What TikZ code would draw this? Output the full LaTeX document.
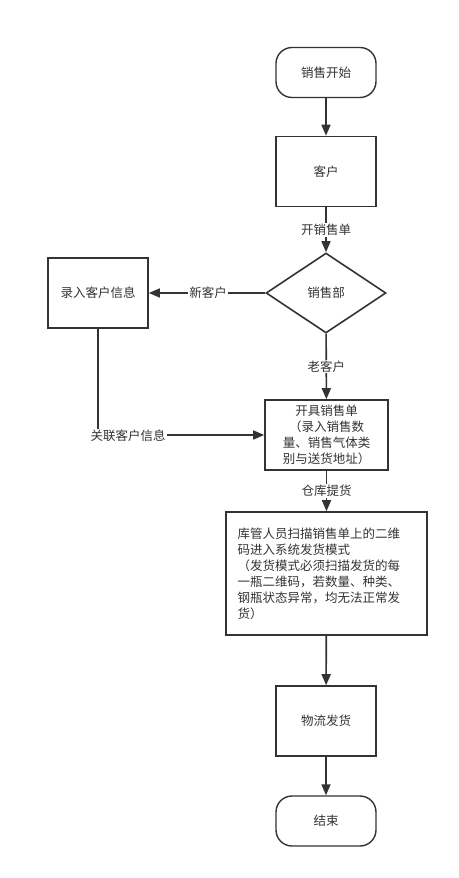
\documentclass[tikz,border=0pt]{standalone}
\usepackage{fontspec}
\setmainfont{Noto Sans CJK SC}
\usetikzlibrary{arrows.meta,shapes.geometric}
\definecolor{ln}{HTML}{333333}
\definecolor{tx}{HTML}{333333}
\begin{document}
\begin{tikzpicture}[x=1pt,y=-1pt,
  font=\fontsize{12.5}{16}\selectfont,
  every node/.style={text=tx},
  boxnode/.style={draw=ln, line width=1.6pt, rectangle, fill=white, inner sep=0pt, align=center},
  termnode/.style={draw=ln, line width=1.4pt, rectangle, rounded corners=16pt, fill=white, inner sep=0pt, minimum width=100pt, minimum height=50pt},
  decnode/.style={draw=ln, line width=1.6pt, diamond, fill=white, inner sep=0pt, minimum width=120pt, minimum height=80pt},
  conn/.style={draw=ln, line width=1.6pt, -{Triangle[length=11pt,width=9pt]}},
  lbl/.style={fill=white, inner sep=1pt}
]
\useasboundingbox (0,0) rectangle (458,878);

\node[termnode] (start) at (326,72.5) {销售开始};
\node[boxnode, minimum width=100pt, minimum height=70pt] (cust) at (326,171.5) {客户};
\node[decnode] (dept) at (326,293) {销售部};
\node[boxnode, minimum width=100pt, minimum height=70pt] (entry) at (98,293) {录入客户信息};
\node[boxnode, minimum width=123pt, minimum height=70pt] (order) at (326.5,435) {开具销售单\\（录入销售数\\量、销售气体类\\别与送货地址）};
\node[boxnode, minimum width=201pt, minimum height=123pt, align=left] (scan) at (326.5,573.5)
  {\parbox{178pt}{\raggedright 库管人员扫描销售单上的二维\\码进入系统发货模式\\（发货模式必须扫描发货的每\\一瓶二维码，若数量、种类、\\钢瓶状态异常，均无法正常发\\货）}};
\node[boxnode, minimum width=100pt, minimum height=70pt] (ship) at (326,721) {物流发货};
\node[termnode] (end) at (326,821) {结束};

\draw[conn] (start) -- (cust);
\draw[conn] (cust) -- (dept) node[lbl, pos=0.5] (l1) {开销售单};
\draw[conn] (dept) -- (entry) node[lbl, pos=0.49] (l2) {新客户};
\draw[conn] (dept) -- (order) node[lbl, pos=0.5] (l3) {老客户};
\draw[conn] (entry.south) |- (order.west);
\node[lbl] (l4) at (128,436) {关联客户信息};
\draw[conn] (order) -- (scan) node[lbl, pos=0.5] (l5) {仓库提货};
\draw[conn] (scan) -- (ship);
\draw[conn] (ship) -- (end);
\end{tikzpicture}
\end{document}
